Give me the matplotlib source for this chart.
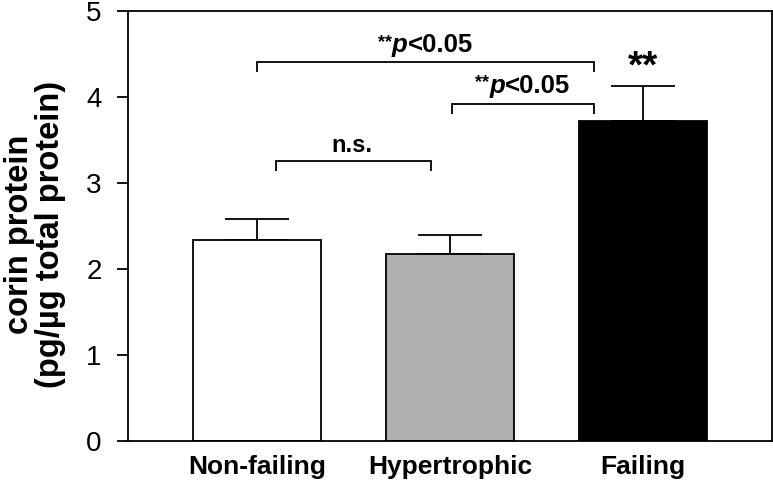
import matplotlib
matplotlib.use("Agg")
import matplotlib.pyplot as plt

# bar data
groups = ["Non-failing", "Hypertrophic", "Failing"]
means = [2.34, 2.17, 3.72]
sem = [0.24, 0.23, 0.41]
y_ticks = [0, 1, 2, 3, 4, 5]

FONT = "Liberation Sans"
plt.rcParams["font.family"] = FONT
LW = 1.3


def rich_label(ax, fig, x, y, parts):
    """Draw several text pieces side by side on one baseline, centred at x."""
    anns = []
    for text, kw in parts:
        dy = kw.pop("dy", 0)
        a = ax.annotate(text, xy=(x, y), xytext=(0, dy), textcoords="offset points",
                        ha="left", va="baseline", weight="bold", **kw)
        anns.append((a, dy))
    fig.canvas.draw()
    r = fig.canvas.get_renderer()
    widths = [a.get_window_extent(r).width for a, _ in anns]
    total = sum(widths)
    cur = -total / 2
    for (a, dy), w in zip(anns, widths):
        a.set_position((cur * 72 / fig.dpi, dy))
        cur += w


def bracket(ax, x1, x2, y, drop=0.12):
    ax.plot([x1, x1, x2, x2], [y - drop, y, y, y - drop], color="black", lw=LW,
            solid_capstyle="butt", solid_joinstyle="miter")


fig = plt.figure(figsize=(7.73, 4.83), dpi=100)
ax = fig.add_axes([128 / 773, 42 / 483, 644 / 773, 430 / 483])

xs = range(len(groups))
ax.bar(xs, means, width=0.66, color=["white", "#b0b0b0", "black"],
       edgecolor="black", linewidth=LW, zorder=2)
ax.errorbar(xs, means, yerr=[[0] * len(sem), sem], fmt="none", ecolor="black",
            elinewidth=LW, capsize=23, capthick=LW, zorder=1)

ax.set_xlim(-0.668, 2.668)
ax.set_ylim(0, 5)
ax.set_yticks(y_ticks)
ax.set_xticks(list(xs))
ax.set_xticklabels(groups, fontsize=19, weight="bold")
ax.tick_params(axis="y", direction="out", length=8, width=LW, labelsize=20, pad=11)
ax.tick_params(axis="x", length=0, pad=10)
for s in ax.spines.values():
    s.set_linewidth(LW)

ax.set_ylabel("corin protein\n(pg/\u00b5g total protein)", fontsize=23.5, weight="bold",
              linespacing=1.0)
ax.yaxis.set_label_coords(-0.097, 0.48)

# significance brackets
bracket(ax, 0.0, 1.746, 4.41)
bracket(ax, 0.098, 0.90, 3.26)
bracket(ax, 1.01, 1.746, 3.92)

p_parts = lambda: [("**", dict(fontsize=13, dy=4)),
                   ("p", dict(fontsize=18.5, style="italic")),
                   ("<0.05", dict(fontsize=18.5))]
rich_label(ax, fig, 0.873, 4.52, p_parts())
rich_label(ax, fig, 1.378, 4.05, p_parts())
ax.text(0.49, 3.36, "n.s.", fontsize=17, weight="bold", ha="center", va="baseline")
ax.annotate("**", xy=(2, means[2] + sem[2]), xytext=(0, 6), textcoords="offset points",
            ha="center", va="baseline", fontsize=28, weight="bold")

fig.savefig("out.png", dpi=100)
